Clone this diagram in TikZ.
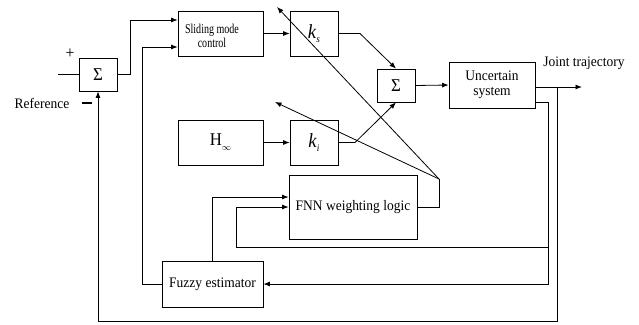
\documentclass[tikz,border=0pt]{standalone}
\usepackage{fontspec}
\usepackage{graphicx}
\setmainfont[FakeStretch=0.93]{Liberation Serif}
\usetikzlibrary{arrows.meta,calc}
\begin{document}
\begin{tikzpicture}[x=1pt,y=-1pt,
  every node/.style={font=\fontsize{14.5}{17}\selectfont},
  blk/.style={draw,line width=0.8pt,inner sep=0pt,align=center},
  wire/.style={line width=0.8pt},
  arr/.style={wire,-{Latex[length=6.5pt,width=5pt]}},
]
\useasboundingbox (0,0) rectangle (639,324);

% blocks
\node[blk,minimum width=38pt,minimum height=33pt] (sum1) at (98,74.5) {\fontsize{18}{18}\selectfont Σ};
\node[blk,minimum width=85pt,minimum height=45pt] (smc) at (220.5,33.5) {};
\node[font=\fontsize{13.5}{15}\selectfont,align=center] (smct) at (212,36)
  {\scalebox{0.8}[1]{Sliding mode}\\[-1pt]\scalebox{0.8}[1]{control}};
\node[blk,minimum width=48pt,minimum height=45pt] (ks) at (314,33.5)
  {\fontsize{20}{20}\selectfont\textit{k}\raisebox{-4pt}{\fontsize{10}{10}\selectfont\textit{s}}};
\node[blk,minimum width=85pt,minimum height=45pt] (hinf) at (220.5,142.5)
  {\fontsize{18}{18}\selectfont H\raisebox{-5pt}{\fontsize{9}{9}\selectfont$\infty$}};
\node[blk,minimum width=48pt,minimum height=45pt] (ki) at (314,142.5)
  {\fontsize{20}{20}\selectfont\textit{k}\raisebox{-4pt}{\fontsize{10}{10}\selectfont\textit{i}}};
\node[blk,minimum width=38pt,minimum height=33pt] (sum2) at (396,85.5) {\fontsize{18}{18}\selectfont Σ};
\node[blk,minimum width=86pt,minimum height=46pt] (sys) at (492,85) {Uncertain\\[-2pt]system};
\node[blk,minimum width=128pt,minimum height=64pt] (fnn) at (353,207) {FNN weighting logic};
\node[blk,minimum width=101pt,minimum height=46pt] (fuz) at (212.5,284) {Fuzzy estimator};

% labels
\node (plus) at (70,54) {\fontsize{17}{17}\selectfont +};
\node[fill=black,inner sep=0pt,minimum width=10pt,minimum height=2.2pt] (minus) at (87,103) {};
\node (ref) at (42,103) {Reference};
\node (jt) at (584,63) {Joint trajectory};

% free ends and bends
\coordinate (in) at (58,74.5);
\coordinate (out) at (582,87);
\coordinate (gain) at (439,179);
\coordinate (tipks) at (277,7);
\coordinate (tipki) at (275,102);

% forward path
\draw[wire] (in) -- (sum1.west);
\draw[arr] (sum1.east) -- (130,74.5) |- ([yshift=13.5pt]smc.west);
\draw[arr] (fuz.west) -- (142,284) |- ([yshift=-13.5pt]smc.west);
\draw[arr] (smc.east) -- (ks.west);
\draw[arr] (hinf.east) -- (ki.west);
\draw[arr] (ks.east) -- (360,33.5) -- (sum2.north);
\draw[arr] (ki.east) -- (355,142.5) -- (sum2.south);
\draw[arr] (sum2.east) -- (sys.west);
\draw[arr] ([yshift=-2pt]sys.east) -- (out);

% feedback paths
\draw[arr] (557,87) -- (557,321) -- (98,321) -- (sum1.south);
\draw[arr] ([yshift=-17pt]sys.east) -- (548,102) -- (548,284) -- (fuz.east);
\draw[arr] (548,247) -- (236,247) |- (fnn.west);
\draw[arr] (fuz.north) |- ([yshift=10pt]fnn.west);

% gain adaptation
\draw[wire] (fnn.east) -| (gain);
\draw[arr] (gain) -- (tipks);
\draw[arr] (gain) -- (tipki);
\end{tikzpicture}
\end{document}
